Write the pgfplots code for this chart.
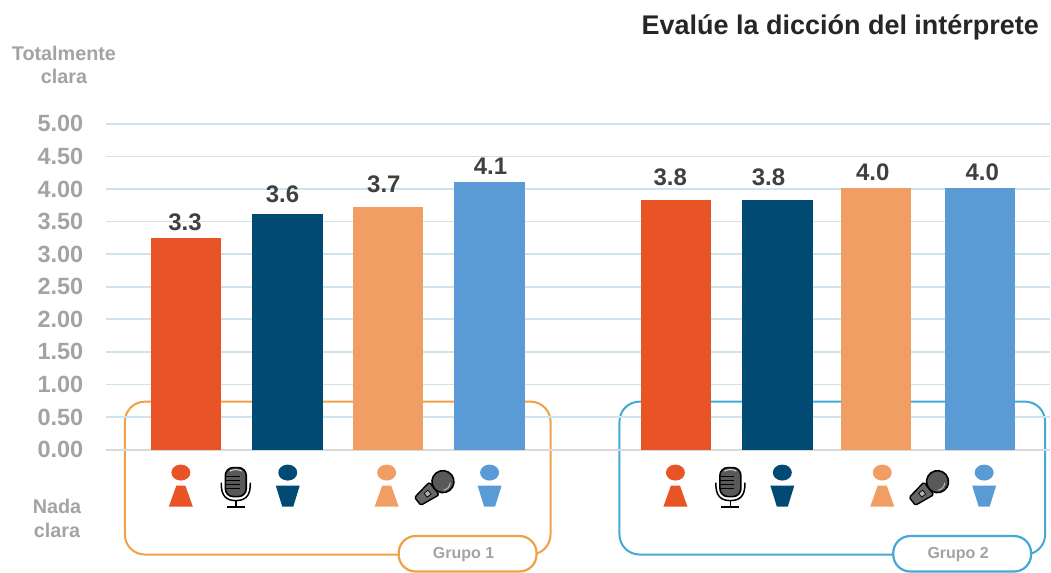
\documentclass[border=0pt]{standalone}
\usepackage{fontspec}
\setmainfont{Liberation Sans}
\usepackage{pgfplots}
\pgfplotsset{compat=1.18}
\definecolor{cR}{HTML}{E95427}
\definecolor{cN}{HTML}{004A73}
\definecolor{cO}{HTML}{F19E65}
\definecolor{cB}{HTML}{5B9BD5}
\definecolor{gridc}{HTML}{CFE3EE}
\definecolor{gtxt}{HTML}{A3A3A3}
\definecolor{dtxt}{HTML}{404040}
\definecolor{frO}{HTML}{F0A045}
\definecolor{frB}{HTML}{45A8D6}
\newcommand{\fs}[1]{\fontsize{#1}{#1}\selectfont\bfseries}
\newcommand{\personA}[2]{%
  \fill[#2] (#1,473) ellipse [x radius=9.5,y radius=8];
  \fill[#2] (#1-4.5,486) -- (#1+4.5,486) -- (#1+12,507) -- (#1-12,507) -- cycle;}
\newcommand{\personB}[2]{%
  \fill[#2] (#1,473) ellipse [x radius=9.5,y radius=8];
  \fill[#2] (#1-12,486) -- (#1+12,486) -- (#1+5.5,507) -- (#1-5.5,507) -- cycle;}
\newcommand{\micStand}[1]{%
  \fill[black!65,draw=black,line width=1.6pt,rounded corners=8pt] (#1-10.5,468) rectangle (#1+10.5,497);
  \draw[black!15,line width=1pt] (#1-6,471.5) .. controls (#1-2,469.5) and (#1+2,469.5) .. (#1+6,471.5);
  \foreach \yy in {477,481,485,489} \draw[black,line width=0.7pt] (#1-10,\yy) -- (#1+4,\yy);
  \draw[black,line width=1.5pt] (#1-14.5,483) .. controls (#1-15,497) and (#1-9,501) .. (#1,501) .. controls (#1+9,501) and (#1+15,497) .. (#1+14.5,483);
  \draw[black,line width=1.4pt] (#1,501) -- (#1,507);
  \draw[black,line width=1.6pt] (#1-9,507.5) -- (#1+9,507.5);}
\newcommand{\micHand}[1]{%
  \begin{scope}[shift={(#1,487)},rotate=38]
    \fill[black!60,draw=black,line width=1.4pt,rounded corners=1.5pt] (-24,-5) -- (-24,5) -- (-3,8) -- (-3,-8) -- cycle;
    \fill[black!30,draw=black,line width=0.7pt] (-14,-2.5) rectangle (-9,2.5);
    \fill[black!65,draw=black,line width=1.6pt] (8,0) circle (11);
    \draw[black!25,line width=0.9pt] (3,7) arc (120:40:8);
  \end{scope}}
\newcommand{\frameBox}[3]{%
  \draw[#3,line width=2pt,rounded corners=20pt] (#1,402) rectangle (#2,555);}
\newcommand{\pill}[4]{%
  \draw[#3,line width=2.2pt,fill=white,rounded corners=17pt] (#1,536.5) rectangle (#2,572);
  \node[anchor=center,text=gtxt,inner sep=0pt] at (#1+65,555.5) {\fs{16}#4};}
\pgfplotsset{lab/.style 2 args={nodes near coords style={xshift=#1pt,yshift=#2pt}}}
\begin{document}
\begin{tikzpicture}
\path (0,0) rectangle (1051pt,573pt);
\begin{scope}[shift={(0,573pt)},x=1pt,y=-1pt]
  \frameBox{125}{551}{frO}
  \frameBox{620}{1046}{frB}
\end{scope}
\begin{axis}[
  at={(106pt,123pt)},anchor=south west,
  scale only axis,width=945pt,height=326pt,
  xmin=106,xmax=1051,ymin=0,ymax=5,
  ytick={0,0.5,...,5},xtick=\empty,
  ymajorgrids,
  grid style={gridc,line width=1.7pt},
  axis x line=bottom,axis y line=left,
  axis line style={-},
  x axis line style={draw=black!15,line width=1.8pt},
  y axis line style={draw=none},
  major tick length=0pt,
  clip=false,
  /pgf/number format/assume math mode=true,
  yticklabel style={font=\fs{23.5},text=gtxt,inner sep=0pt,xshift=-22.5pt,
    /pgf/number format/fixed,/pgf/number format/fixed zerofill,/pgf/number format/precision=2},
  ybar,bar width=70.5pt,
  /pgfplots/bar shift=0pt,
  point meta=explicit symbolic,
  nodes near coords,
  nodes near coords style={font=\fs{24},text=dtxt,inner sep=0pt,yshift=5pt,anchor=south},
  every axis plot/.append style={draw=none},
]
\addplot[fill=cR,lab={-1}{2}] coordinates {(186.2,3.25)[3.3]};
\addplot[fill=cN,lab={-5}{6}] coordinates {(287.8,3.62)[3.6]};
\addplot[fill=cO,lab={-4}{9}] coordinates {(388.2,3.73)[3.7]};
\addplot[fill=cB,lab={1}{2}] coordinates {(490,4.11)[4.1]};
\addplot[fill=cR,lab={-6}{9}] coordinates {(676.8,3.83)[3.8]};
\addplot[fill=cN,lab={-9}{9}] coordinates {(778.2,3.83)[3.8]};
\addplot[fill=cO,lab={-3}{2}] coordinates {(876.5,4.02)[4.0]};
\addplot[fill=cB,lab={2}{2}] coordinates {(981,4.02)[4.0]};
\end{axis}
\begin{scope}[shift={(0,573pt)},x=1pt,y=-1pt]
  \pill{399}{537}{frO}{Grupo 1}
  \pill{894}{1032}{frB}{Grupo 2}
  \personA{181}{cR}\personB{288}{cN}\personA{387}{cO}\personB{490}{cB}
  \personA{676}{cR}\personB{783}{cN}\personA{883}{cO}\personB{985}{cB}
  \micStand{236}\micStand{731}
  \micHand{437}\micHand{932}
  \node[anchor=east,inner sep=0pt,text=black!85] at (1040,27) {\fs{27}Evalúe la dicción del intérprete};
  \node[text=gtxt,inner sep=0pt] at (64,53) {\fs{19.8}Totalmente};
  \node[text=gtxt,inner sep=0pt] at (64,77) {\fs{19.8}clara};
  \node[text=gtxt,inner sep=0pt] at (57,507) {\fs{19.8}Nada};
  \node[text=gtxt,inner sep=0pt] at (57,531) {\fs{19.8}clara};
\end{scope}
\end{tikzpicture}
\end{document}
